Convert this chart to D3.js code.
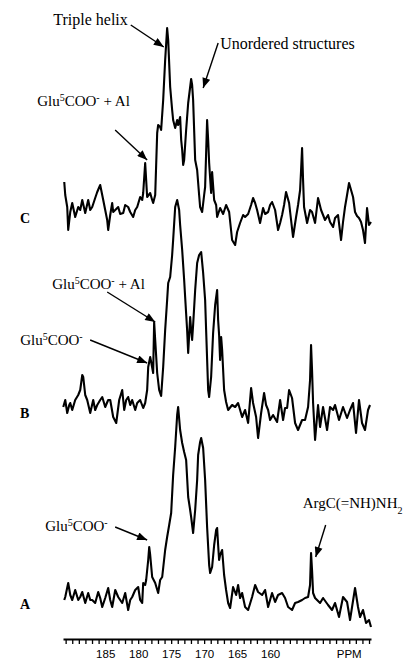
<!DOCTYPE html>
<html>
<head>
<meta charset="utf-8">
<script src="https://cdn.jsdelivr.net/npm/d3@7"></script>
<style>
  body { margin: 0; background: #fff; }
  svg { display: block; }
</style>
</head>
<body>
<div class="spectra"></div>
<script>
// [ppm, intensity]
var traceA = [[191.21,-2],[191.06,1],[190.61,15],[190.30,3],[190.00,-2],[189.55,8],[189.09,-2],[188.79,1],[188.48,6],[188.03,-5],[187.58,5],[187.27,-2],[186.97,-2],[186.52,-5],[186.06,6],[185.76,0],[185.45,-9],[185.00,0],[184.55,10],[184.24,-2],[183.94,-9],[183.48,8],[183.03,1],[182.73,-2],[182.42,-5],[181.97,5],[181.52,-12],[181.21,-2],[180.91,1],[180.45,8],[180.00,11],[179.70,-2],[179.39,-5],[179.24,15],[178.94,13],[178.79,18],[178.48,38],[178.33,51],[178.18,43],[177.88,21],[177.42,15],[176.97,5],[176.67,18],[176.36,21],[175.91,48],[175.61,61],[175.30,73],[175.00,85],[174.70,123],[174.39,151],[174.09,183],[173.94,191],[173.64,168],[173.33,155],[173.03,146],[172.73,138],[172.42,101],[172.12,88],[171.97,81],[171.67,65],[171.36,88],[171.06,118],[170.91,143],[170.61,156],[170.45,160],[170.15,150],[169.85,118],[169.55,71],[169.24,33],[169.09,25],[168.79,31],[168.48,53],[168.18,68],[168.03,70],[167.88,53],[167.73,38],[167.58,43],[167.27,48],[166.97,23],[166.67,8],[166.36,-5],[166.06,-10],[165.61,11],[165.15,3],[164.85,13],[164.55,0],[164.24,5],[163.79,-9],[163.33,-12],[162.73,1],[162.27,13],[161.82,6],[161.21,3],[160.76,8],[160.30,-9],[159.70,5],[159.24,-4],[158.79,3],[158.18,5],[157.73,0],[157.27,-9],[156.67,-12],[156.21,-5],[155.76,-4],[155.15,-2],[154.70,0],[154.24,1],[153.94,13],[153.79,45],[153.64,28],[153.48,5],[153.18,0],[152.88,-2],[152.42,-5],[151.97,0],[151.21,-7],[150.61,-12],[150.15,-5],[149.55,-19],[148.94,1],[148.33,-4],[147.88,-22],[147.12,10],[146.67,-9],[146.36,-19],[145.91,-12],[145.45,-25],[145.00,-22],[144.70,-29]];

var traceB = [[191.36,0],[191.06,7],[190.76,-6],[190.45,2],[190.30,4],[190.00,-3],[189.55,7],[189.09,12],[188.79,17],[188.48,32],[188.33,30],[188.03,12],[187.73,7],[187.27,-6],[186.82,7],[186.52,-3],[186.21,2],[185.76,7],[185.45,10],[185.00,0],[184.55,7],[184.24,7],[183.79,-10],[183.33,-16],[182.88,7],[182.42,17],[182.12,-3],[181.82,7],[181.52,10],[181.21,2],[180.91,7],[180.45,-3],[180.15,4],[179.70,7],[179.24,-1],[178.94,4],[178.64,17],[178.48,40],[178.18,50],[178.03,45],[177.73,34],[177.58,85],[177.42,67],[177.12,34],[176.82,17],[176.52,11],[176.21,40],[175.91,77],[175.61,107],[175.45,124],[175.15,130],[174.85,152],[174.70,167],[174.39,200],[174.09,207],[173.79,197],[173.64,182],[173.33,157],[173.03,127],[172.88,110],[172.58,77],[172.42,54],[172.27,72],[172.12,90],[171.97,77],[171.82,67],[171.67,82],[171.36,117],[171.06,144],[170.76,152],[170.45,155],[170.15,134],[169.85,107],[169.70,77],[169.39,17],[169.24,10],[168.94,30],[168.64,74],[168.33,102],[168.03,117],[167.88,87],[167.73,72],[167.58,47],[167.42,70],[167.27,57],[166.97,17],[166.67,5],[166.36,-3],[165.76,2],[165.30,0],[164.85,4],[164.24,-10],[163.79,-3],[163.33,-16],[162.88,19],[162.58,4],[162.12,-10],[161.82,-31],[161.36,-6],[160.91,14],[160.61,2],[160.30,-3],[160.00,-13],[159.55,-8],[158.94,-15],[158.48,7],[158.03,-13],[157.73,-1],[157.42,-1],[157.12,17],[156.67,9],[156.21,-16],[155.76,-23],[155.15,-13],[154.70,-13],[154.24,0],[153.94,27],[153.79,62],[153.64,37],[153.48,4],[153.18,-33],[152.73,2],[152.42,-20],[151.97,0],[151.36,-23],[150.91,0],[150.45,-3],[150.15,2],[149.55,-13],[148.94,0],[148.33,-11],[147.88,-3],[147.42,4],[146.97,-26],[146.52,7],[146.06,-16],[145.61,-23],[145.15,-3],[144.85,2]];

var traceC = [[191.21,30],[191.06,17],[190.76,5],[190.61,-18],[190.30,0],[190.00,9],[189.55,-5],[189.09,5],[188.79,2],[188.48,12],[188.03,-1],[187.58,12],[187.27,2],[186.97,5],[186.52,14],[186.21,20],[185.76,27],[185.30,12],[185.00,2],[184.70,-8],[184.55,-18],[184.24,-3],[183.94,9],[183.79,0],[183.48,2],[183.03,5],[182.73,-2],[182.27,-1],[181.97,7],[181.52,5],[181.21,0],[180.76,-5],[180.45,2],[180.15,5],[179.70,15],[179.39,12],[179.24,19],[178.94,49],[178.64,15],[178.18,19],[177.88,12],[177.73,9],[177.42,17],[177.12,79],[176.97,87],[176.67,85],[176.52,82],[176.21,112],[175.91,152],[175.61,184],[175.45,172],[175.15,125],[174.85,102],[174.70,92],[174.39,84],[174.09,92],[173.94,87],[173.64,95],[173.48,72],[173.33,62],[173.18,47],[173.03,52],[172.73,82],[172.42,109],[171.97,133],[171.82,127],[171.67,112],[171.36,52],[171.06,42],[170.76,17],[170.61,5],[170.30,0],[170.00,17],[169.85,25],[169.55,92],[169.39,72],[169.24,49],[168.94,19],[168.79,40],[168.48,12],[168.18,7],[168.03,-5],[167.58,4],[167.12,-2],[166.67,7],[166.21,0],[165.76,-28],[165.30,-33],[165.00,-20],[164.55,-11],[164.09,-3],[163.79,-5],[163.33,-2],[162.88,7],[162.58,14],[162.27,9],[161.97,2],[161.52,-11],[161.06,4],[160.76,-2],[160.30,0],[160.00,7],[159.70,10],[159.24,2],[158.79,-18],[158.48,-11],[158.18,-3],[157.88,7],[157.58,20],[157.12,9],[156.82,-8],[156.52,-25],[156.06,-5],[155.76,7],[155.45,22],[155.30,42],[155.15,64],[155.00,32],[154.85,5],[154.39,-11],[153.94,2],[153.64,0],[153.18,-11],[152.73,14],[152.27,2],[151.97,-3],[151.67,-8],[151.21,-3],[150.91,-10],[150.45,-15],[150.15,-6],[149.70,-3],[149.24,-28],[148.94,-10],[148.64,5],[148.33,17],[148.03,29],[147.42,15],[147.12,0],[146.82,-4],[146.52,-6],[146.21,-10],[145.91,-18],[145.61,-31],[145.30,4],[145.00,-13],[144.70,-10]];

var traceNames = ["A", "B", "C"];
var traceOffsets = [0, 191, 386]; // vertical stacking, in intensity units
var tickLabels = [185, 180, 175, 170, 165, 160];
var axisUnit = "PPM";

// arrow tip in data units (ppm, intensity of that trace), tail and text in px from the tip
var annotations = [
  {trace: 2, ppm: 176.12, value: 165, tail: [-33, -22], text: [-36, -22], anchor: "end", size: 16, parts: [["Triple helix"]]},
  {trace: 2, ppm: 170.15, value: 124, tail: [15, -45], text: [17, -39], anchor: "start", size: 16, parts: [["Unordered structures"]]},
  {trace: 2, ppm: 178.64, value: 52, tail: [-32, -30], text: [-110, -54], anchor: "start", size: 15,
    parts: [["Glu"], ["5", "super"], ["COO"], ["-", "super"], [" + Al"]]},
  {trace: 1, ppm: 177.42, value: 85, tail: [-48, -30], text: [-103, -33], anchor: "start", size: 15,
    parts: [["Glu"], ["5", "super"], ["COO"], ["-", "super"], [" + Al"]]},
  {trace: 1, ppm: 178.64, value: 44, tail: [-57, -23], text: [-127, -18], anchor: "start", size: 15,
    parts: [["Glu"], ["5", "super"], ["COO"], ["-", "super"]]},
  {trace: 0, ppm: 178.64, value: 58, tail: [-32, -13], text: [-102, -9], anchor: "start", size: 15,
    parts: [["Glu"], ["5", "super"], ["COO"], ["-", "super"]]},
  {trace: 0, ppm: 153.09, value: 41, tail: [10, -32], text: [-13, -49], anchor: "start", size: 15,
    parts: [["ArgC(=NH)NH"], ["2", "sub"]]}
];

var width = 414, height = 660;
var axisY = 639;

var x = d3.scaleLinear().domain([191.4, 144.7]).range([63, 371]);
var y = d3.scaleLinear().domain([0, 598]).range([598, 0]);

var traces = [traceA, traceB, traceC].map(function(points, i) {
  return {
    name: traceNames[i],
    offset: traceOffsets[i],
    points: points.map(function(p) { return {ppm: p[0], value: p[1]}; })
  };
});

var svg = d3.select("div.spectra").append("svg")
  .attr("width", width)
  .attr("height", height);

svg.append("defs").append("marker")
  .attr("id", "head")
  .attr("markerUnits", "userSpaceOnUse")
  .attr("viewBox", "0 0 10 8")
  .attr("refX", 10)
  .attr("refY", 4)
  .attr("markerWidth", 11)
  .attr("markerHeight", 8)
  .attr("orient", "auto")
  .append("path")
  .attr("d", "M0,0L10,4L0,8Z")
  .attr("fill", "#000");

var line = function(offset) {
  return d3.line()
    .x(function(d) { return x(d.ppm); })
    .y(function(d) { return y(d.value + offset); });
};

var groups = svg.selectAll("g.trace").data(traces).enter().append("g")
  .attr("class", "trace");

groups.append("path")
  .attr("d", function(t) { return line(t.offset)(t.points); })
  .attr("fill", "none")
  .attr("stroke", "#000")
  .attr("stroke-width", 2.1)
  .attr("stroke-linejoin", "round");

groups.append("text")
  .attr("x", 20)
  .attr("y", function(t) { return y(t.offset) + 11; })
  .attr("font-family", "Liberation Serif, Times New Roman, serif")
  .attr("font-weight", "bold")
  .attr("font-size", 14)
  .text(function(t) { return t.name; });

// ppm axis, one tick per ppm
var axis = d3.axisBottom(x)
  .tickValues(d3.range(145, 192))
  .tickSize(5)
  .tickSizeOuter(0)
  .tickPadding(6)
  .tickFormat(function(d) { return tickLabels.indexOf(d) >= 0 ? d : ""; });

var gAxis = svg.append("g")
  .attr("transform", "translate(0," + axisY + ")")
  .call(axis);
gAxis.select(".domain").attr("stroke-width", 1.8);
gAxis.selectAll(".tick line").attr("stroke-width", 1.3);
gAxis.selectAll("text")
  .attr("font-family", "Liberation Sans, Arial, sans-serif")
  .attr("font-size", 11.5)
  .attr("fill", "#000");

svg.append("text")
  .attr("x", x(148))
  .attr("y", axisY + 19)
  .attr("text-anchor", "middle")
  .attr("font-family", "Liberation Sans, Arial, sans-serif")
  .attr("font-size", 11.5)
  .text(axisUnit);

// labels with arrows
var notes = svg.selectAll("g.note").data(annotations).enter().append("g")
  .attr("class", "note")
  .attr("transform", function(a) {
    return "translate(" + x(a.ppm) + "," + y(a.value + traceOffsets[a.trace]) + ")";
  });

notes.append("line")
  .attr("x1", function(a) { return a.tail[0]; })
  .attr("y1", function(a) { return a.tail[1]; })
  .attr("x2", 0)
  .attr("y2", 0)
  .attr("stroke", "#000")
  .attr("stroke-width", 1.4)
  .attr("marker-end", "url(#head)");

var labels = notes.append("text")
  .attr("x", function(a) { return a.text[0]; })
  .attr("y", function(a) { return a.text[1]; })
  .attr("text-anchor", function(a) { return a.anchor; })
  .attr("font-family", "Liberation Serif, Times New Roman, serif")
  .attr("font-size", function(a) { return a.size; });

labels.selectAll("tspan").data(function(a) { return a.parts; }).enter().append("tspan")
  .attr("baseline-shift", function(p) { return p[1] || null; })
  .attr("font-size", function(p) { return p[1] ? 10 : null; })
  .text(function(p) { return p[0]; });
</script>
</body>
</html>
